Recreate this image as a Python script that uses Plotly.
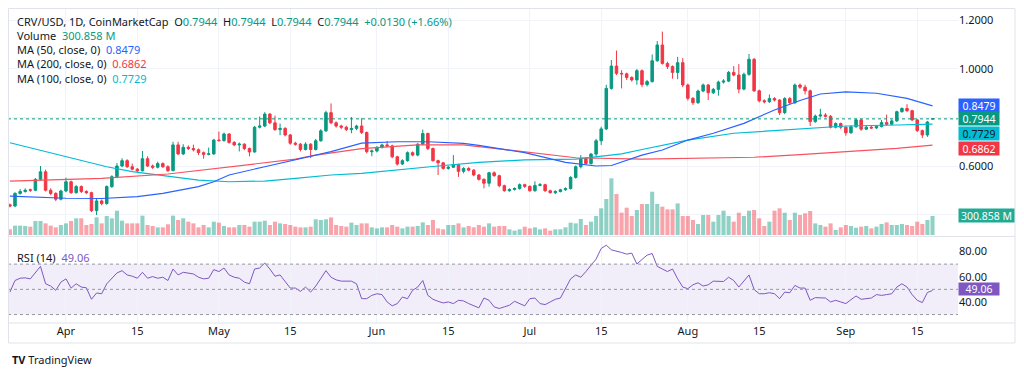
import plotly.graph_objects as go
import pandas as pd

# ---------------- data ----------------
OPEN = [0.440,0.435,0.487,0.495,0.502,0.500,0.545,0.576,0.500,0.487,
        0.463,0.497,0.535,0.490,0.515,0.495,0.490,0.416,0.456,0.445,
        0.515,0.556,0.600,0.622,0.597,0.587,0.580,0.630,0.600,0.595,
        0.610,0.597,0.581,0.687,0.650,0.677,0.672,0.667,0.655,0.648,
        0.650,0.707,0.705,0.732,0.697,0.687,0.690,0.672,0.658,0.760,
        0.765,0.814,0.778,0.750,0.755,0.728,0.694,0.690,0.668,0.690,
        0.668,0.704,0.745,0.820,0.778,0.765,0.760,0.750,0.755,0.765,
        0.738,0.659,0.662,0.677,0.687,0.683,0.638,0.608,0.622,0.655,
        0.645,0.690,0.734,0.672,0.622,0.613,0.590,0.595,0.605,0.578,
        0.590,0.583,0.563,0.545,0.529,0.572,0.560,0.519,0.498,0.503,
        0.507,0.523,0.516,0.498,0.520,0.523,0.498,0.490,0.495,0.502,
        0.507,0.553,0.597,0.631,0.610,0.649,0.704,0.753,0.920,1.012,
        0.982,0.980,0.965,0.955,0.993,0.936,0.948,1.034,1.099,1.023,
        1.010,0.986,1.026,0.934,0.879,0.861,0.909,0.934,0.902,0.916,
        0.946,0.950,0.986,0.975,0.917,0.978,1.040,0.910,0.869,0.865,
        0.878,0.872,0.820,0.878,0.861,0.934,0.925,0.910,0.783,0.806,
        0.810,0.805,0.760,0.775,0.760,0.737,0.762,0.790,0.752,0.760,
        0.757,0.763,0.779,0.772,0.786,0.824,0.837,0.828,0.790,0.746,
        0.728,0.7944]

HIGH = [0.445,0.492,0.505,0.508,0.507,0.550,0.600,0.585,0.508,0.492,
        0.502,0.552,0.540,0.522,0.520,0.500,0.494,0.468,0.462,0.520,
        0.562,0.612,0.632,0.628,0.610,0.592,0.662,0.640,0.606,0.618,
        0.615,0.603,0.700,0.700,0.690,0.685,0.688,0.672,0.660,0.676,
        0.712,0.742,0.738,0.736,0.703,0.697,0.694,0.676,0.765,0.804,
        0.822,0.818,0.808,0.775,0.760,0.732,0.700,0.695,0.698,0.694,
        0.712,0.752,0.828,0.858,0.784,0.770,0.766,0.802,0.770,0.797,
        0.742,0.668,0.682,0.692,0.703,0.688,0.642,0.628,0.660,0.660,
        0.694,0.750,0.738,0.676,0.626,0.617,0.600,0.645,0.609,0.595,
        0.595,0.587,0.567,0.549,0.576,0.578,0.564,0.523,0.508,0.512,
        0.528,0.527,0.520,0.537,0.530,0.527,0.502,0.500,0.506,0.512,
        0.558,0.602,0.645,0.636,0.654,0.712,0.762,0.935,1.037,1.076,
        0.995,0.985,0.970,1.000,0.998,0.955,1.060,1.115,1.154,1.030,
        1.015,1.050,1.045,0.940,0.884,0.915,0.940,0.938,0.922,0.952,
        0.958,0.992,1.012,1.020,0.985,1.062,1.045,0.915,0.875,0.895,
        0.884,0.876,0.884,0.884,0.940,0.940,0.935,0.915,0.812,0.836,
        0.818,0.810,0.780,0.779,0.764,0.768,0.795,0.794,0.768,0.766,
        0.768,0.790,0.812,0.792,0.828,0.842,0.855,0.832,0.794,0.750,
        0.786,0.7944]

LOW = [0.430,0.430,0.482,0.490,0.493,0.496,0.540,0.495,0.480,0.455,
       0.458,0.492,0.485,0.486,0.488,0.484,0.410,0.398,0.438,0.440,
       0.510,0.550,0.595,0.592,0.582,0.575,0.578,0.596,0.588,0.590,
       0.592,0.575,0.578,0.645,0.645,0.666,0.660,0.645,0.630,0.644,
       0.646,0.700,0.700,0.692,0.682,0.660,0.665,0.640,0.655,0.755,
       0.760,0.772,0.745,0.727,0.722,0.688,0.684,0.660,0.664,0.632,
       0.664,0.700,0.740,0.772,0.758,0.752,0.744,0.735,0.748,0.732,
       0.652,0.640,0.656,0.672,0.679,0.632,0.602,0.604,0.618,0.640,
       0.640,0.686,0.666,0.618,0.563,0.585,0.585,0.592,0.555,0.570,
       0.578,0.558,0.540,0.508,0.515,0.556,0.512,0.494,0.494,0.499,
       0.503,0.510,0.494,0.494,0.516,0.493,0.486,0.484,0.491,0.498,
       0.503,0.548,0.590,0.604,0.606,0.640,0.687,0.748,0.915,0.975,
       0.920,0.955,0.948,0.935,0.925,0.928,0.944,1.030,1.018,1.000,
       0.960,0.958,0.925,0.870,0.852,0.856,0.904,0.872,0.897,0.890,
       0.940,0.946,0.970,0.900,0.912,0.972,0.905,0.862,0.858,0.860,
       0.866,0.810,0.814,0.854,0.856,0.918,0.895,0.765,0.778,0.800,
       0.800,0.755,0.755,0.752,0.725,0.733,0.757,0.745,0.748,0.752,
       0.753,0.759,0.766,0.768,0.782,0.820,0.822,0.785,0.740,0.715,
       0.720,0.7944]

CLOSE = [0.435,0.487,0.495,0.500,0.500,0.545,0.576,0.500,0.487,0.463,
         0.497,0.535,0.490,0.515,0.495,0.490,0.416,0.456,0.445,0.515,
         0.556,0.600,0.622,0.597,0.587,0.580,0.630,0.600,0.595,0.610,
         0.597,0.581,0.687,0.650,0.677,0.672,0.667,0.655,0.648,0.650,
         0.707,0.705,0.732,0.697,0.687,0.690,0.672,0.658,0.760,0.765,
         0.814,0.778,0.750,0.755,0.728,0.694,0.690,0.668,0.690,0.668,
         0.704,0.745,0.820,0.778,0.765,0.760,0.750,0.755,0.765,0.738,
         0.659,0.662,0.677,0.687,0.683,0.638,0.608,0.622,0.655,0.645,
         0.690,0.734,0.672,0.622,0.613,0.590,0.595,0.605,0.578,0.590,
         0.583,0.563,0.545,0.529,0.572,0.560,0.519,0.498,0.503,0.507,
         0.523,0.516,0.498,0.520,0.523,0.498,0.490,0.495,0.502,0.507,
         0.553,0.597,0.631,0.610,0.649,0.704,0.753,0.920,1.012,0.982,
         0.980,0.965,0.955,0.993,0.936,0.948,1.034,1.099,1.023,1.010,
         0.986,1.026,0.934,0.879,0.861,0.909,0.934,0.902,0.916,0.946,
         0.950,0.986,0.975,0.917,0.978,1.040,0.910,0.869,0.865,0.878,
         0.872,0.820,0.878,0.861,0.934,0.925,0.910,0.783,0.806,0.810,
         0.805,0.760,0.775,0.760,0.737,0.762,0.790,0.752,0.760,0.757,
         0.763,0.779,0.772,0.786,0.824,0.837,0.828,0.790,0.746,0.728,
         0.7814,0.7944]

VOLUME_M = [90,148,148,142,132,221,221,184,148,121,
            158,184,221,264,264,158,174,279,184,300,
            264,385,227,184,184,184,306,158,142,121,
            121,169,306,237,264,211,184,121,158,121,
            211,195,142,121,121,158,158,132,211,211,
            227,158,211,184,174,158,132,121,121,132,
            248,237,248,279,158,142,132,195,158,184,
            184,121,105,121,121,158,132,105,132,132,
            142,200,158,237,105,90,158,158,184,121,
            142,121,158,132,184,132,142,142,90,69,
            90,132,105,121,90,105,69,90,90,121,
            195,184,253,158,211,300,422,569,896,648,
            353,432,300,395,490,490,685,490,448,406,
            406,500,300,300,237,174,316,316,211,316,
            385,300,211,353,300,385,395,264,142,211,
            385,422,353,237,353,316,343,380,184,158,
            132,184,79,121,158,142,116,132,142,105,
            132,174,200,158,158,174,158,142,211,174,
            237,300.858]

RSI = [47.8,57.0,58.8,59.1,58.3,63.5,68.2,54.4,52.6,49.2,
       55.7,58.3,51.0,54.4,51.8,51.2,42.1,47.1,46.5,54.4,
       58.3,63.0,64.8,61.4,60.4,58.8,63.5,58.8,60.1,58.8,
       59.6,57.0,66.1,61.4,63.5,63.0,62.2,59.6,58.3,58.8,
       65.6,64.1,66.9,61.4,59.6,58.8,55.7,54.4,66.1,66.9,
       70.9,66.1,60.4,61.4,56.2,51.0,51.0,48.4,51.8,47.8,
       52.6,58.8,64.8,59.6,57.5,56.5,56.5,56.5,54.4,42.6,
       42.6,45.2,46.5,45.8,40.0,36.9,38.7,43.9,42.6,49.2,
       51.8,57.0,45.2,42.1,40.5,39.2,40.0,38.7,41.3,40.8,
       38.7,36.9,35.3,43.1,41.3,36.1,34.8,36.1,37.4,40.5,
       38.7,36.9,42.6,43.1,38.7,37.9,40.0,42.1,43.1,50.5,
       58.3,61.4,59.6,64.1,69.3,74.0,82.4,85.0,81.3,80.5,
       79.2,77.9,78.7,70.1,74.0,77.1,78.4,68.2,66.1,64.1,
       66.1,58.3,51.8,50.5,53.6,55.2,52.6,53.6,56.5,56.5,
       56.2,59.6,57.0,51.8,57.0,61.4,49.9,46.5,46.5,47.3,
       46.5,42.6,47.8,47.3,53.1,51.0,51.0,41.3,43.4,43.4,
       43.1,40.0,41.3,40.0,38.7,41.8,44.7,42.1,42.6,43.1,
       45.8,45.2,45.8,46.5,51.8,54.4,51.8,45.8,41.3,39.5,
       47.5,49.06]

MA50_DATES = ["2025-03-21","2025-04-01","2025-04-08","2025-04-15","2025-04-20","2025-04-27",
              "2025-04-30","2025-05-03","2025-05-10","2025-05-16","2025-05-23","2025-05-29",
              "2025-06-05","2025-06-11","2025-06-18","2025-06-21","2025-06-30","2025-07-08",
              "2025-07-14","2025-07-17","2025-07-23","2025-07-27","2025-08-01","2025-08-06",
              "2025-08-12","2025-08-18","2025-08-23","2025-08-27","2025-09-01","2025-09-07",
              "2025-09-13","2025-09-18"]
MA50 = [0.476,0.467,0.466,0.474,0.487,0.515,0.535,0.563,0.597,0.625,0.659,0.694,
        0.700,0.700,0.693,0.685,0.655,0.615,0.600,0.602,0.645,0.666,0.707,0.735,
        0.776,0.831,0.870,0.897,0.906,0.900,0.879,0.8479]

MA100_DATES = ["2025-03-21","2025-04-01","2025-04-09","2025-04-14","2025-04-21","2025-04-27",
               "2025-05-03","2025-05-10","2025-05-16","2025-05-23","2025-05-29","2025-06-05",
               "2025-06-13","2025-06-21","2025-06-30","2025-07-10","2025-07-19","2025-07-23",
               "2025-08-01","2025-08-10","2025-08-23","2025-09-01","2025-09-11","2025-09-18"]
MA100 = [0.696,0.638,0.597,0.577,0.559,0.542,0.535,0.538,0.549,0.563,0.570,0.585,
         0.600,0.615,0.625,0.628,0.650,0.668,0.707,0.735,0.752,0.765,0.769,0.7729]

MA200_DATES = ["2025-03-21","2025-04-08","2025-04-21","2025-05-03","2025-05-16","2025-05-20",
               "2025-05-23","2025-05-29","2025-06-09","2025-06-18","2025-06-21","2025-06-30",
               "2025-07-10","2025-07-23","2025-08-06","2025-08-14","2025-08-23","2025-09-01",
               "2025-09-11","2025-09-18"]
MA200 = [0.538,0.549,0.567,0.597,0.628,0.645,0.655,0.672,0.687,0.687,0.680,0.659,
         0.634,0.628,0.632,0.636,0.647,0.659,0.673,0.6862]

TICK_DATES = ["2025-04-01","2025-04-15","2025-05-01","2025-05-15","2025-06-01","2025-06-15",
              "2025-07-01","2025-07-15","2025-08-01","2025-08-15","2025-09-01","2025-09-15"]
TICK_TEXT = ["Apr","15","May","15","Jun","15","Jul","15","Aug","15","Sep","15"]

LAST_PRICE = 0.7944
LAST_VOL = 300.858
LAST_RSI = 49.06

# ---------------- styling ----------------
GREEN = "#089981"
RED = "#f23645"
BLUE = "#2962ff"
CYAN = "#00bcd4"
PURPLE = "#7e57c2"
TXT = "#131722"
GRID = "#f0f3fa"
FONT = "Noto Sans"

n = min(len(OPEN), len(HIGH), len(LOW), len(CLOSE), len(VOLUME_M), len(RSI))
DATES = pd.date_range("2025-03-21", periods=n, freq="D")
OPEN, HIGH, LOW, CLOSE = OPEN[:n], HIGH[:n], LOW[:n], CLOSE[:n]
VOLUME_M, RSI = VOLUME_M[:n], RSI[:n]

vol_colors = ["rgba(8,153,129,0.45)" if c >= o else "rgba(242,54,69,0.45)"
              for o, c in zip(OPEN, CLOSE)]

# the page body has an 8px margin, so the figure starts at page (8, 8)
W, H = 1016, 366
L_M, R_M, T_M, B_M = 0, 66, 0, 51
PW, PH = W - L_M - R_M, H - T_M - B_M
OFF = 8


def px(X):  # page x -> paper
    return (X - OFF - L_M) / PW


def py(Y):  # page y -> paper
    return (H - B_M - (Y - OFF)) / PH


X_RANGE = ["2025-03-20 15:00", "2025-09-23 00:00"]

fig = go.Figure()

fig.add_trace(go.Bar(x=DATES, y=VOLUME_M, marker=dict(color=vol_colors, line=dict(width=0)),
                     xaxis="x", yaxis="y3", hoverinfo="skip", showlegend=False))

fig.add_trace(go.Candlestick(x=DATES, open=OPEN, high=HIGH, low=LOW, close=CLOSE,
                             increasing=dict(line=dict(color=GREEN, width=1), fillcolor=GREEN),
                             decreasing=dict(line=dict(color=RED, width=1), fillcolor=RED),
                             whiskerwidth=0, xaxis="x", yaxis="y", showlegend=False))

fig.add_trace(go.Scatter(x=MA100_DATES, y=MA100, mode="lines", line=dict(color=CYAN, width=1.2),
                         xaxis="x", yaxis="y", showlegend=False))
fig.add_trace(go.Scatter(x=MA200_DATES, y=MA200, mode="lines", line=dict(color="#f7525f", width=1.2),
                         xaxis="x", yaxis="y", showlegend=False))
fig.add_trace(go.Scatter(x=MA50_DATES, y=MA50, mode="lines", line=dict(color=BLUE, width=1.2),
                         xaxis="x", yaxis="y", showlegend=False))

fig.add_trace(go.Scatter(x=DATES, y=RSI, mode="lines", line=dict(color=PURPLE, width=1),
                         xaxis="x2", yaxis="y2", showlegend=False))

MAIN_DOM = [py(235), 1.0]
RSI_DOM = [0.0, py(238)]

fig.update_layout(
    width=W, height=H,
    margin=dict(l=L_M, r=R_M, t=T_M, b=B_M),
    paper_bgcolor="white", plot_bgcolor="white",
    font=dict(family=FONT, color=TXT, size=11),
    bargap=0.2,
    showlegend=False,
    xaxis=dict(type="date", range=X_RANGE, domain=[0, 1], anchor="y",
               tickvals=TICK_DATES, showticklabels=False, showgrid=True, gridcolor=GRID,
               zeroline=False, rangeslider=dict(visible=False), ticks=""),
    xaxis2=dict(type="date", range=X_RANGE, domain=[0, 1], anchor="y2", matches="x",
                tickvals=TICK_DATES, ticktext=TICK_TEXT, showgrid=True, gridcolor=GRID,
                tickfont=dict(size=11, color=TXT, family=FONT), ticks="", zeroline=False),
    yaxis=dict(domain=MAIN_DOM, side="right", range=[0.3155, 1.2515],
               tickvals=[0.4, 0.6, 0.8, 1.0, 1.2],
               ticktext=["", "0.6000", "", "1.0000", "1.2000"],
               showgrid=True, gridcolor=GRID, zeroline=False, ticks="",
               tickfont=dict(size=11, color=TXT, family=FONT), anchor="x"),
    yaxis3=dict(overlaying="y", range=[0, 3590], visible=False, showgrid=False),
    yaxis2=dict(domain=RSI_DOM, side="right", range=[23.3, 90.7],
                tickvals=[40, 60, 80], ticktext=["40.00", "60.00", "80.00"],
                showgrid=False, zeroline=False, ticks="",
                tickfont=dict(size=11, color=TXT, family=FONT), anchor="x2"),
)

shapes = []
# RSI band & levels
shapes.append(dict(type="rect", xref="x2 domain", yref="y2", x0=0, x1=1, y0=30, y1=70,
                   fillcolor="rgba(126,87,194,0.10)", line=dict(width=0), layer="below"))
for lvl in (70, 50, 30):
    shapes.append(dict(type="line", xref="x2 domain", yref="y2", x0=0, x1=1, y0=lvl, y1=lvl,
                       line=dict(color="#9598a1", width=1, dash="dot")))
# last price dotted line
shapes.append(dict(type="line", xref="x domain", yref="y", x0=0, x1=1, y0=LAST_PRICE, y1=LAST_PRICE,
                   line=dict(color=GREEN, width=1, dash="dot")))
# pane separators & border
BORDER = "#e0e3eb"
shapes.append(dict(type="line", xref="paper", yref="paper", x0=0, x1=px(1015), y0=py(236.5), y1=py(236.5),
                   line=dict(color=BORDER, width=1)))
shapes.append(dict(type="line", xref="paper", yref="paper", x0=0, x1=px(1015), y0=0, y1=0,
                   line=dict(color=BORDER, width=1)))
shapes.append(dict(type="rect", xref="paper", yref="paper", x0=px(8.5), x1=px(1015), y0=py(343), y1=py(8.5),
                   line=dict(color=BORDER, width=1), fillcolor="rgba(0,0,0,0)"))
fig.update_layout(shapes=shapes)

ann = []


def legend_line(Y, text, size=11):
    ann.append(dict(xref="paper", yref="paper", x=px(15), y=py(Y), xanchor="left", yanchor="middle",
                    text=text, showarrow=False, font=dict(size=size, color=TXT, family=FONT)))


def g(t, c=GREEN):
    return f"<span style='color:{c}'>{t}</span>"


SEP = "&nbsp;&nbsp;"
legend_line(21.5, "CRV/USD, 1D, CoinMarketCap" + SEP + "O" + g("0.7944") + SEP + "H" + g("0.7944") + SEP
            + "L" + g("0.7944") + SEP + "C" + g("0.7944") + SEP + g("+0.0130 (+1.66%)"))
legend_line(35.5, "Volume" + SEP + g("300.858 M"))
legend_line(49.5, "MA (50, close, 0)" + SEP + g("0.8479", BLUE))
legend_line(63.5, "MA (200, close, 0)" + SEP + g("0.6862", RED))
legend_line(78.5, "MA (100, close, 0)" + SEP + g("0.7729", CYAN))
legend_line(257.5, "RSI (14)" + SEP + g("49.06", PURPLE))


def tag(yref, yval, text, bg, fc="white", yshift=0, width=38, height=11):
    ann.append(dict(xref="paper", yref=yref, x=1.0, y=yval, xanchor="left", yanchor="middle",
                    text=text, showarrow=False, bgcolor=bg, borderpad=1, width=width, height=height,
                    align="center", yshift=yshift, xshift=0,
                    font=dict(size=10.5, color=fc, family=FONT)))


tag("y", MA50[-1], "0.8479", BLUE)
tag("y", LAST_PRICE, "0.7944", GREEN)
tag("y", MA100[-1], "0.7729", CYAN, fc=TXT, yshift=-9.5)
tag("y", MA200[-1], "0.6862", RED, yshift=-3.4)
tag("y3", LAST_VOL, "300.858 M", "#22ab94", width=53)
tag("y2", LAST_RSI, "49.06", PURPLE, yshift=2, height=10)

ann.append(dict(xref="paper", yref="paper", x=px(10), y=py(359), xanchor="left", yanchor="middle",
                text="<b>TV</b> TradingView", showarrow=False,
                font=dict(size=11, color=TXT, family=FONT)))

fig.update_layout(annotations=ann)

fig.write_html("out.html")
